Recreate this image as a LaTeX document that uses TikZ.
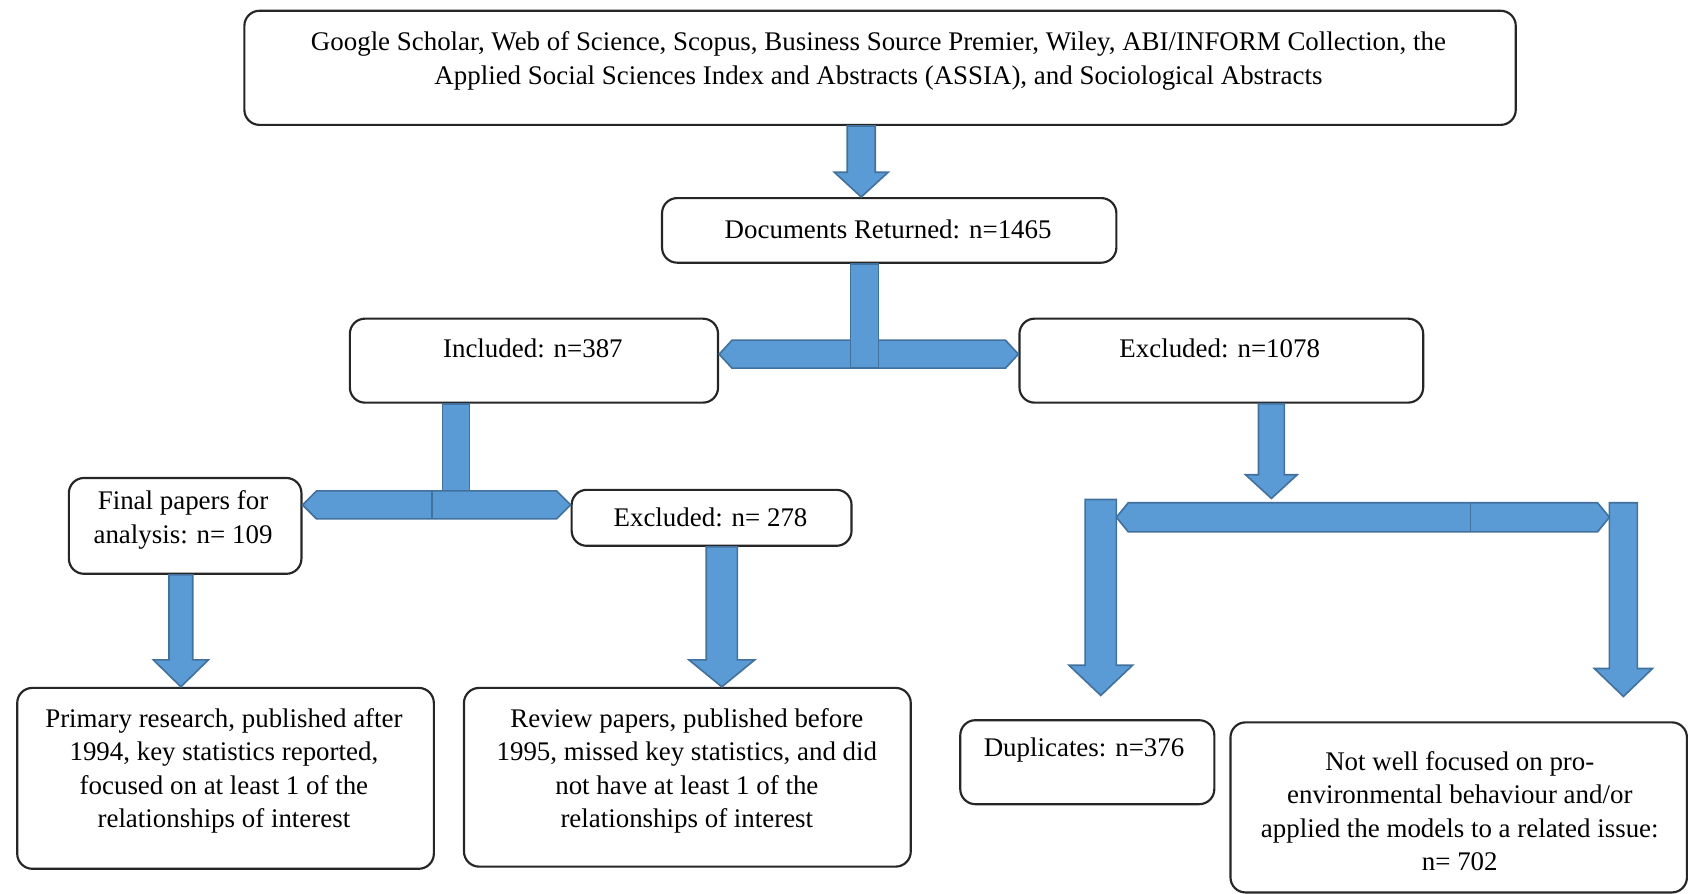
\documentclass[tikz,border=0pt]{standalone}
\usepackage{fontspec}
\setmainfont{Liberation Serif}
\usetikzlibrary{calc}
\definecolor{blkfill}{HTML}{5B9BD5}
\definecolor{blkline}{HTML}{41719C}
\tikzset{
  box/.style={draw=black!85, line width=2pt, rounded corners=14pt, fill=white, inner sep=0pt, anchor=north west},
  txt/.style={align=center, inner sep=0pt, font=\fontsize{25}{31}\selectfont},
  blk/.style={fill=blkfill, draw=blkline, line width=1.5pt, line join=miter},
  divl/.style={draw=blkline, line width=1.5pt},
}
% down block arrow: #1 x, #2 start, #3 tip, #4 shaft half width, #5 head half width, #6 head length
\newcommand\downblk[6]{%
  \path[blk] let \p1=(#1,0 |- #2), \p2=(#1,0 |- #3) in
    ({\x1-#4pt},\y1) -- ({\x1+#4pt},\y1) -- ({\x1+#4pt},{\y2+#6pt}) -- ({\x1+#5pt},{\y2+#6pt})
    -- (\x1,\y2) -- ({\x1-#5pt},{\y2+#6pt}) -- ({\x1-#4pt},{\y2+#6pt}) -- cycle;}
% left-right block bar: #1 left end, #2 right end, #3 y, #4 half height, #5 chevron depth
\newcommand\dblbar[5]{%
  \path[blk] let \p1=(#1 |- 0,#3), \p2=(#2 |- 0,#3) in
    (\x1,\y1) -- ({\x1+#5pt},{\y1+#4pt}) -- ({\x2-#5pt},{\y1+#4pt}) -- (\x2,\y1)
    -- ({\x2-#5pt},{\y1-#4pt}) -- ({\x1+#5pt},{\y1-#4pt}) -- cycle;}
\begin{document}
\begin{tikzpicture}[x=1pt,y=-1pt]
\useasboundingbox (0,0) rectangle (1568,830);

% boxes
\node[box, minimum width=1181pt, minimum height=106pt] (top) at (226,9) {};
\node[box, minimum width=422pt, minimum height=60pt] (docs) at (614,183) {};
\node[box, minimum width=342pt, minimum height=78pt] (incl) at (324,295) {};
\node[box, minimum width=375pt, minimum height=78pt] (excl1) at (946,295) {};
\node[box, minimum width=216pt, minimum height=89pt] (final) at (63,443) {};
\node[box, minimum width=260pt, minimum height=52pt] (excl2) at (530,454) {};
\node[box, minimum width=387pt, minimum height=168pt] (primary) at (15,638) {};
\node[box, minimum width=415pt, minimum height=166pt] (review) at (430,638) {};
\node[box, minimum width=236pt, minimum height=78pt] (dup) at (891,668) {};
\node[box, minimum width=424pt, minimum height=158pt] (notwell) at (1142,670) {};

% texts
\node[txt] (topT) at (816,56.5) {Google Scholar, Web of Science, Scopus, Business Source Premier, Wiley, ABI/INFORM Collection, the\\Applied Social Sciences Index and Abstracts (ASSIA), and Sociological Abstracts};
\node[txt] (docsT) at (825,213) {Documents Returned: n=1465};
\node[txt] (inclT) at (495,324) {Included: n=387};
\node[txt] (excl1T) at (1133,324) {Excluded: n=1078};
\node[txt] (finalT) at (170,483) {Final papers for\\analysis: n= 109};
\node[txt] (excl2T) at (660,481) {Excluded: n= 278};
\node[txt] (primaryT) at (208,716) {Primary research, published after\\1994, key statistics reported,\\focused on at least 1 of the\\relationships of interest};
\node[txt] (reviewT) at (638,716) {Review papers, published before\\1995, missed key statistics, and did\\not have at least 1 of the\\relationships of interest};
\node[txt] (dupT) at (1007,697) {Duplicates: n=376};
\node[txt] (notwellT) at (1356,753.5) {Not well focused on pro-\\environmental behaviour and/or\\applied the models to a related issue:\\n= 702};

% helper coordinates
\coordinate (e1tip) at (1181,463);
\coordinate (rbL) at (1037,480.5);
\coordinate (rbR) at (1495,480.5);
\coordinate (dLtop) at (1022.5,464);
\coordinate (dLtip) at (1022.5,646);
\coordinate (dRtop) at (1508,467);
\coordinate (dRtip) at (1508,647);

% arrows
\downblk{800}{top.south}{docs.north}{13}{25}{23}
\dblbar{incl.east}{excl1.west}{329}{13}{12}
\path[blk] (790,0 |- docs.south) rectangle (816,342);

\path[blk] (411,0 |- incl.south) rectangle (436,456);
\dblbar{final.east}{excl2.west}{469}{13}{13}
\draw[divl] (401,456) -- (401,482);

\downblk{168}{final.south}{primary.north}{11}{25.5}{25}
\downblk{670.5}{excl2.south}{review.north}{14.5}{30.5}{25}

\downblk{1181}{excl1.south}{e1tip}{12}{24}{22}
\dblbar{rbL}{rbR}{480.5}{13.5}{11}
\draw[divl] (1366,467) -- (1366,494);
\downblk{1022.5}{dLtop}{dLtip}{14.5}{29.5}{28}
\downblk{1508}{dRtop}{dRtip}{13}{27}{26}
\end{tikzpicture}
\end{document}
